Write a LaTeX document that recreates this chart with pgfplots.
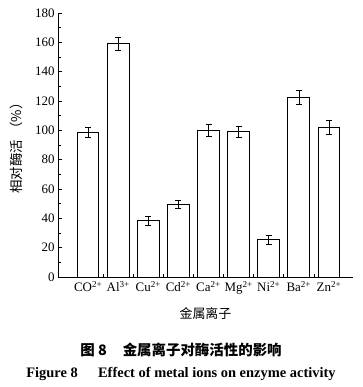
\documentclass[border=0pt]{standalone}
\usepackage{pgfplots}
\pgfplotsset{compat=1.18}
\usepackage{fontspec}
\setmainfont{Liberation Serif}
\newfontfamily\cjk{Noto Sans CJK SC}
\begin{document}
\begin{tikzpicture}[x=1bp,y=1bp]
\useasboundingbox (-58,-110) rectangle (305,277);
\begin{axis}[
  at={(0,0)}, anchor=origin,
  scale only axis,
  width=295bp, height=264bp,
  xmin=0, xmax=9.8,
  ymin=0, ymax=180,
  axis lines=left,
  axis line style={line width=0.9pt,-},
  xtick={1,2,3,4,5,6,7,8,9},
  xticklabels={CO\textsuperscript{2+},Al\textsuperscript{3+},Cu\textsuperscript{2+},Cd\textsuperscript{2+},Ca\textsuperscript{2+},Mg\textsuperscript{2+},Ni\textsuperscript{2+},Ba\textsuperscript{2+},Zn\textsuperscript{2+}},
  minor x tick num=1,
  ytick={0,20,...,180},
  minor y tick num=1,
  tick align=inside,
  major tick length=4bp,
  minor tick length=3bp,
  tick style={line width=0.7pt,black},
  /pgf/number format/assume math mode=true,
  tick label style={font=\fontsize{13}{15}\selectfont},
  xticklabel style={yshift=-1bp},
  ylabel={\cjk 相对酶活\hspace{0.3em}（\%）},
  ylabel style={font=\fontsize{13.5}{15}\selectfont, yshift=5bp},
  xlabel={\cjk 金属离子},
  xlabel style={font=\fontsize{13}{15}\selectfont, yshift=-6bp},
  clip=false,
]
\addplot[ybar, bar width=21.7bp, fill=white, draw=black, line width=1pt,
  error bars/.cd, y dir=both, y explicit,
  error bar style={line width=0.6pt},
  error mark options={rotate=90, mark size=3bp, line width=0.7pt}]
coordinates {
 (1,98.5) +- (0,3.5)
 (2,159) +- (0,4.3)
 (3,38.5) +- (0,3)
 (4,49.5) +- (0,3)
 (5,100) +- (0,4)
 (6,99) +- (0,4)
 (7,25.5) +- (0,3)
 (8,122.5) +- (0,5)
 (9,102) +- (0,4.5)
};
\end{axis}
\node[font=\cjk\bfseries\fontsize{14.5}{16}\selectfont] at (123,-73) {图 8\hspace{1.1em}金属离子对酶活性的影响};
\node[font=\bfseries\fontsize{14.5}{16}\selectfont] at (123,-97) {Figure 8\hspace{1.4em}Effect of metal ions on enzyme activity};
\end{tikzpicture}
\end{document}
